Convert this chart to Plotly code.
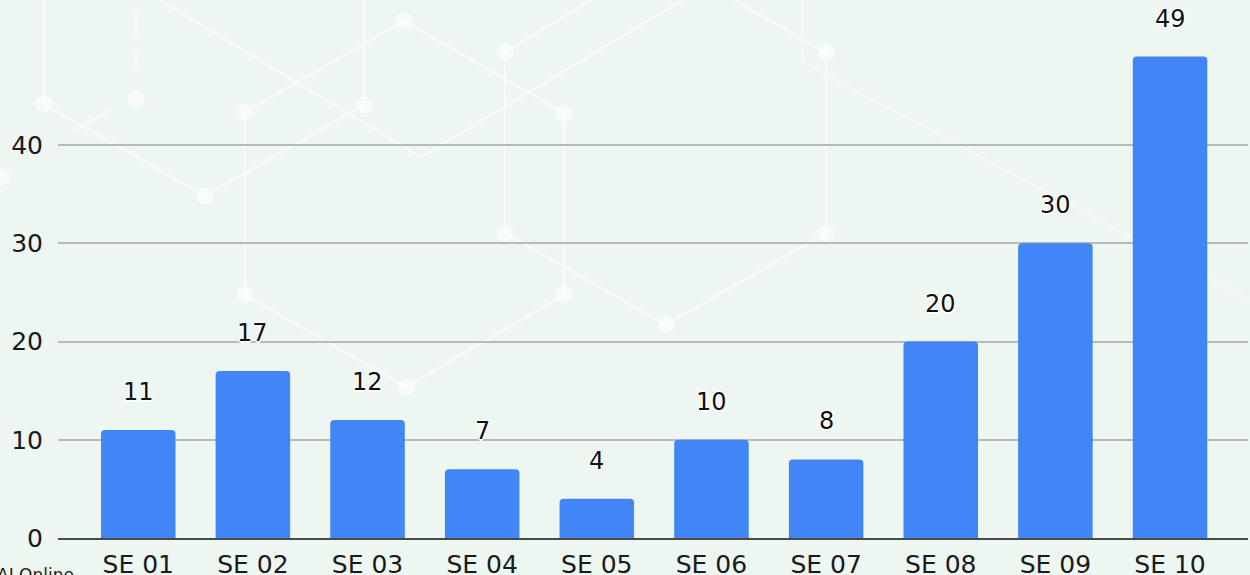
import plotly.graph_objects as go

categories = ["SE 01", "SE 02", "SE 03", "SE 04", "SE 05", "SE 06", "SE 07", "SE 08", "SE 09", "SE 10"]
values = [11, 17, 12, 7, 4, 10, 8, 20, 30, 49]
tick_values = [0, 10, 20, 30, 40]

FONT = "DejaVu Sans"
BG = "#eef6f2"
BAR = "#4285f4"

W, H = 1250, 575
ML, MR, MT, MB = 58, 2, 0, 37
PW, PH = W - ML - MR, H - MT - MB

fig = go.Figure()
fig.add_trace(go.Bar(
    x=categories, y=values,
    marker=dict(color=BAR, line=dict(width=0)),
    width=0.65,
    hoverinfo="x+y",
))

halo = ("1.5px 0 0.5px white, -1.5px 0 0.5px white, 0 1.5px 0.5px white, 0 -1.5px 0.5px white, "
        "1px 1px 0.5px white, -1px -1px 0.5px white, 1px -1px 0.5px white, -1px 1px 0.5px white")
for c, v in zip(categories, values):
    fig.add_annotation(
        x=c, y=v, text=str(v), showarrow=False,
        yanchor="middle", yshift=38,
        font=dict(family=FONT, size=24, color="#111111", shadow=halo),
    )

fig.add_annotation(
    x=(76 - ML) / PW, xref="paper", xanchor="right",
    y=1 - 563 / PH, yref="paper", yanchor="top",
    text="AI Online", showarrow=False,
    font=dict(family=FONT, size=17, color="#222222"),
)

# faint decorative hexagon network in the background (pixel positions of the backdrop)
def px(x):
    return (x - ML) / PW

def py(y):
    return 1 - (y - MT) / PH

deco_segments = [
    ((44, -5), (44, 104)), ((44, 104), (205, 196)), ((205, 196), (364, 105)),
    ((364, -5), (364, 105)), ((151, -5), (421, 157)), ((421, 157), (691, -5)),
    ((245, 112), (404, 21)), ((404, 21), (564, 113)), ((245, 112), (245, 295)),
    ((505, 52), (505, 233)), ((564, 113), (564, 295)), ((505, 52), (600, -5)),
    ((245, 295), (406, 387)), ((406, 387), (564, 295)), ((505, 233), (666, 325)),
    ((666, 325), (826, 233)), ((826, 53), (826, 233)), ((726, -5), (826, 53)),
    ((136, 12), (136, 38)), ((136, 50), (136, 70)), ((75, 130), (110, 110)),
]
faint_segments = [((802, -5), (802, 62)), ((802, 62), (1250, 300))]
deco_nodes = [(44, 104), (136, 99), (205, 196), (245, 112), (364, 105), (404, 21),
              (505, 52), (564, 113), (505, 233), (564, 295), (245, 295), (406, 387),
              (666, 325), (826, 53), (826, 233), (2, 177)]

shapes = []
for (x0, y0), (x1, y1) in deco_segments:
    shapes.append(dict(type="line", xref="paper", yref="paper",
                       x0=px(x0), y0=py(y0), x1=px(x1), y1=py(y1),
                       line=dict(color="rgba(255,255,255,0.5)", width=2.5), layer="below"))
for (x0, y0), (x1, y1) in faint_segments:
    shapes.append(dict(type="line", xref="paper", yref="paper",
                       x0=px(x0), y0=py(y0), x1=px(x1), y1=py(y1),
                       line=dict(color="rgba(255,255,255,0.3)", width=2.5), layer="below"))
for (x, y) in deco_nodes:
    r = 8.5
    shapes.append(dict(type="circle", xref="paper", yref="paper",
                       x0=px(x - r), y0=py(y + r), x1=px(x + r), y1=py(y - r),
                       fillcolor="rgba(255,255,255,0.6)", line=dict(width=0), layer="below"))

fig.update_layout(
    width=W, height=H,
    paper_bgcolor=BG, plot_bgcolor="rgba(0,0,0,0)",
    margin=dict(l=ML, r=MR, t=MT, b=MB, autoexpand=False),
    showlegend=False,
    barcornerradius=4,
    shapes=shapes,
    font=dict(family=FONT, size=24, color="#1a1a1a"),
    xaxis=dict(
        range=[-0.70, 9.68],
        automargin=False,
        showgrid=False, zeroline=False,
        showline=True, linecolor="#4a4a4a", linewidth=2,
        ticks="", tickfont=dict(size=25, color="#1a1a1a"),
        ticklabelstandoff=3,
    ),
    yaxis=dict(
        range=[0, 54.76],
        automargin=False,
        tickvals=tick_values,
        showgrid=True, gridcolor="#b7bbb9", gridwidth=1.5,
        zeroline=False, showline=False,
        ticks="", tickfont=dict(size=25, color="#1a1a1a"),
        ticklabelstandoff=14,
    ),
)

fig.write_html(
    "out.html",
    config={"displayModeBar": False},
    post_script="document.body.style.margin='0';document.body.style.overflow='hidden';",
)
